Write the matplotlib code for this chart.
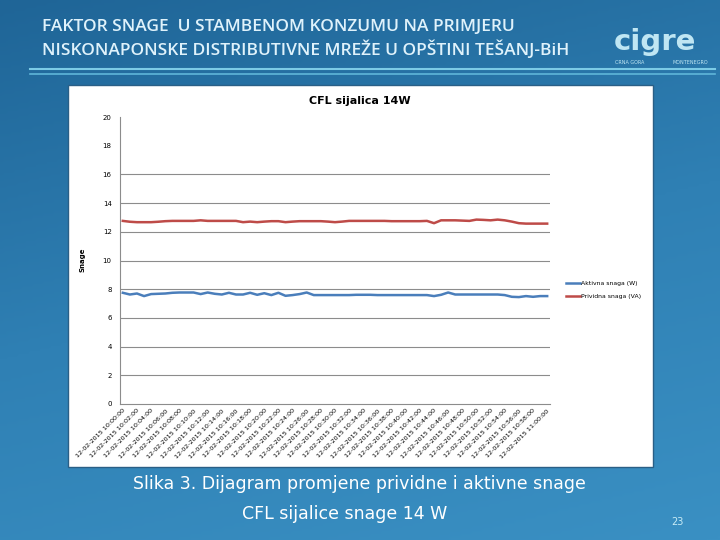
import numpy as np
import matplotlib
matplotlib.use("Agg")
import matplotlib.pyplot as plt
from matplotlib.patches import Rectangle
from matplotlib.colors import LinearSegmentedColormap

# ---- data ----
minutes = [f"10:{m:02d}:00" for m in range(0, 60)] + ["11:00:00"]
time_labels = ["12-02-2015 " + t for t in minutes]

prividna = [12.76, 12.70, 12.67, 12.67, 12.67, 12.70, 12.74, 12.76, 12.76, 12.76,
            12.76, 12.80, 12.76, 12.76, 12.76, 12.76, 12.76, 12.67, 12.71, 12.67,
            12.71, 12.74, 12.74, 12.67, 12.71, 12.74, 12.74, 12.74, 12.74, 12.71,
            12.67, 12.71, 12.76, 12.76, 12.76, 12.76, 12.76, 12.76, 12.74, 12.74,
            12.74, 12.74, 12.74, 12.76, 12.60, 12.80, 12.80, 12.80, 12.78, 12.76,
            12.85, 12.83, 12.80, 12.85, 12.80, 12.71, 12.60, 12.57, 12.57, 12.57,
            12.57]
aktivna = [7.75, 7.63, 7.70, 7.52, 7.66, 7.68, 7.70, 7.75, 7.77, 7.77,
           7.77, 7.66, 7.77, 7.68, 7.63, 7.75, 7.63, 7.63, 7.75, 7.61,
           7.72, 7.59, 7.75, 7.54, 7.59, 7.66, 7.77, 7.59, 7.59, 7.59,
           7.59, 7.59, 7.59, 7.61, 7.61, 7.61, 7.59, 7.59, 7.59, 7.59,
           7.59, 7.59, 7.59, 7.59, 7.52, 7.61, 7.77, 7.63, 7.63, 7.63,
           7.63, 7.63, 7.63, 7.63, 7.59, 7.47, 7.45, 7.52, 7.47, 7.52,
           7.52]
y_ticks = [0, 2, 4, 6, 8, 10, 12, 14, 16, 18, 20]
grid_levels = [2, 4, 6, 8, 10, 12, 14, 16]

W, H = 720, 540
fig = plt.figure(figsize=(7.2, 5.4), dpi=100)

# ---- slide background ----
bg = fig.add_axes([0, 0, 1, 1])
bg.set_xlim(0, W)
bg.set_ylim(H, 0)
bg.axis("off")
cmap = LinearSegmentedColormap.from_list("slide", ["#1f6597", "#2f80b4", "#3a90c3"])
yy, xx = np.mgrid[0:1:200j, 0:1:200j]
grad = 0.75 * yy + 0.25 * xx
bg.imshow(grad, cmap=cmap, extent=[0, W, H, 0], aspect="auto", zorder=0)
bg.plot([30, 715], [69, 69], color="#7ccbe6", lw=1.5, zorder=1)
bg.plot([30, 715], [74, 74], color="#5fb6d9", lw=1.2, zorder=1)

title_kw = dict(color="#dff2fb", fontsize=12.5, family="Open Sans", fontweight="semibold",
                va="center", ha="left", zorder=2)
bg.text(42, 27, "FAKTOR SNAGE  U STAMBENOM KONZUMU NA PRIMJERU", **title_kw)
bg.text(42, 50, "NISKONAPONSKE DISTRIBUTIVNE MREŽE U OPŠTINI TEŠANJ-BiH", **title_kw)

# logo
bg.text(655, 42, "cigre", color="#bfe6f3", fontsize=21, fontweight="bold",
        family="DejaVu Sans", ha="center", va="center", zorder=2)
bg.text(630, 62, "CRNA GORA", color="#bfe6f3", fontsize=3.5, ha="center", va="center", zorder=2)
bg.text(690, 62, "MONTENEGRO", color="#bfe6f3", fontsize=3.5, ha="center", va="center", zorder=2)

# chart panel
bg.add_patch(Rectangle((68, 85), 585, 382, facecolor="white", edgecolor="#2a5f86",
                       lw=1.0, zorder=1))
bg.text(360, 101, "CFL sijalica 14W", fontsize=8, fontweight="bold", ha="center",
        va="center", color="black", zorder=2)
bg.text(83, 260, "Snage", fontsize=5, fontweight="bold", rotation=90, ha="center",
        va="center", color="black", zorder=2)

# caption
cap_kw = dict(color="white", fontsize=12.5, family="DejaVu Sans", ha="center", va="center", zorder=2)
bg.text(359, 484, "Slika 3. Dijagram promjene prividne i aktivne snage", **cap_kw)
bg.text(345, 514, "CFL sijalice snage 14 W", **cap_kw)
bg.text(677, 522, "23", color="#c8ecf6", fontsize=7, ha="center", va="center", zorder=2)

# ---- chart axes ----
ax = fig.add_axes([120 / W, 1 - 404 / H, (550 - 120) / W, (404 - 117) / H])
ax.set_facecolor("white")
x = np.arange(len(time_labels))
for g in grid_levels:
    ax.axhline(g, color="#8c8c8c", lw=0.8, zorder=1)
l1, = ax.plot(x, aktivna, color="#4a7ebb", lw=1.8, zorder=3, label="Aktivna snaga (W)")
l2, = ax.plot(x, prividna, color="#be4b48", lw=1.8, zorder=3, label="Prividna snaga (VA)")
ax.set_xlim(-0.4, len(x) - 1 + 0.4)
ax.set_ylim(0, 20)
ax.set_yticks(y_ticks)
ax.set_yticklabels([str(v) for v in y_ticks], fontsize=5)
ax.set_xticks(x[::2])
ax.set_xticklabels(time_labels[::2], rotation=45, ha="right", rotation_mode="anchor",
                   fontsize=4.6)
ax.tick_params(axis="both", length=0, pad=3)
ax.tick_params(axis="y", pad=6)
for s in ["top", "right"]:
    ax.spines[s].set_visible(False)
ax.spines["left"].set_color("#8c8c8c")
ax.spines["bottom"].set_color("#8c8c8c")

fig.legend(handles=[l1, l2], loc="center left", bbox_to_anchor=(560 / W, 1 - 290 / H),
           fontsize=4.4, frameon=False, handlelength=2.4, handletextpad=0.2,
           labelspacing=1.3)

fig.savefig("out.png", dpi=100)
